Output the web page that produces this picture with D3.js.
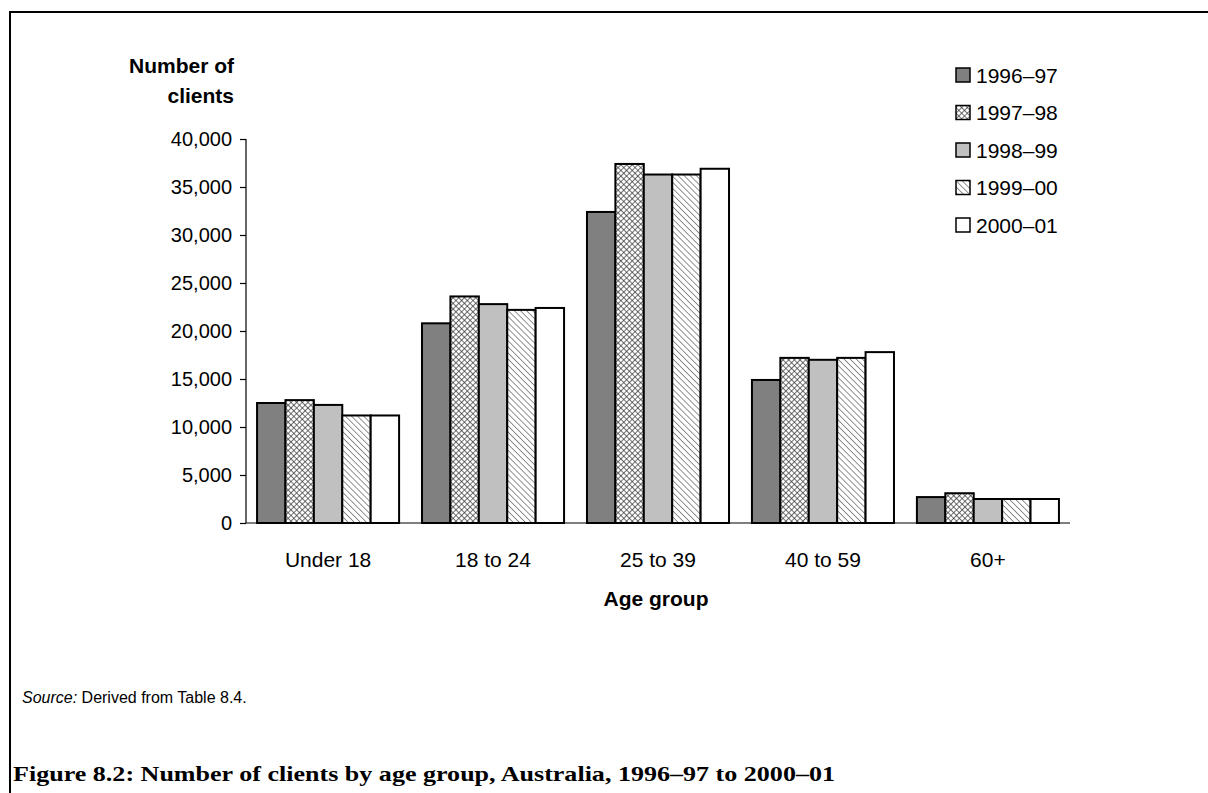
<!DOCTYPE html>
<html>
<head>
<meta charset="utf-8">
<script src="https://cdn.jsdelivr.net/npm/d3@7"></script>
<style>
  html, body { margin: 0; padding: 0; background: #fff; }
  svg { display: block; }
  svg text { fill: #000; }
</style>
</head>
<body>
<svg id="chart" width="1208" height="793"></svg>
<script>
// ---- Data ----
const categories = ["Under 18", "18 to 24", "25 to 39", "40 to 59", "60+"];
const seriesNames = ["1996–97", "1997–98", "1998–99", "1999–00", "2000–01"];
const v1996_97 = [12500, 20800, 32400, 14900, 2700];
const v1997_98 = [12800, 23600, 37400, 17200, 3100];
const v1998_99 = [12300, 22800, 36300, 17000, 2500];
const v1999_00 = [11200, 22200, 36300, 17200, 2500];
const v2000_01 = [11200, 22400, 36900, 17800, 2500];
const yTicks = [0, 5000, 10000, 15000, 20000, 25000, 30000, 35000, 40000];

const seriesValues = [v1996_97, v1997_98, v1998_99, v1999_00, v2000_01];
const fills = ["#808080", "url(#crosshatch)", "#c0c0c0", "url(#diag)", "#ffffff"];
const SANS = "'Liberation Sans', Arial, sans-serif";

const svg = d3.select("#chart").style("font-family", SANS);

// ---- Patterns ----
const defs = svg.append("defs");
const ch = defs.append("pattern").attr("id", "crosshatch")
  .attr("patternUnits", "userSpaceOnUse").attr("width", 4).attr("height", 4)
  .attr("patternTransform", "rotate(45)");
ch.append("rect").attr("width", 4).attr("height", 4).attr("fill", "#fff");
ch.append("line").attr("x1", 0).attr("y1", 0).attr("x2", 0).attr("y2", 4)
  .attr("stroke", "#333").attr("stroke-width", 1.4);
ch.append("line").attr("x1", 0).attr("y1", 0).attr("x2", 4).attr("y2", 0)
  .attr("stroke", "#333").attr("stroke-width", 1.4);

const dg = defs.append("pattern").attr("id", "diag")
  .attr("patternUnits", "userSpaceOnUse").attr("width", 4.3).attr("height", 4.3)
  .attr("patternTransform", "rotate(-45)");
dg.append("rect").attr("width", 4.3).attr("height", 4.3).attr("fill", "#fff");
dg.append("line").attr("x1", 0).attr("y1", 0).attr("x2", 0).attr("y2", 4.3)
  .attr("stroke", "#777").attr("stroke-width", 1.6);

// ---- Frame ----
svg.append("path").attr("d", "M10,793 V12 H1208")
  .attr("fill", "none").attr("stroke", "#000").attr("stroke-width", 2);

// ---- Scales ----
const x0 = d3.scaleBand().domain(categories).range([246, 1070])
  .paddingInner(0.139).paddingOuter(0.067);
const x1 = d3.scaleBand().domain(seriesNames).range([0, x0.bandwidth()]);
const y = d3.scaleLinear().domain([0, 40000]).range([523, 139]);

// ---- Bars ----
const groups = svg.append("g").selectAll("g").data(categories).join("g")
  .attr("transform", d => `translate(${x0(d)},0)`);
groups.selectAll("rect")
  .data((c, ci) => seriesNames.map((s, si) => ({ s, si, v: seriesValues[si][ci] })))
  .join("rect")
  .attr("x", d => x1(d.s))
  .attr("y", d => y(d.v))
  .attr("width", x1.bandwidth())
  .attr("height", d => y(0) - y(d.v))
  .attr("fill", d => fills[d.si])
  .attr("stroke", "#000")
  .attr("stroke-width", 2);

// ---- Y axis ----
const yAxis = svg.append("g").attr("transform", "translate(246,0)")
  .call(d3.axisLeft(y).tickValues(yTicks).tickSize(6).tickPadding(8)
    .tickFormat(d3.format(",")));
yAxis.attr("font-family", null).attr("font-size", null);
yAxis.select(".domain").attr("d", `M0,${y(40000)}V${y(0)}`).attr("stroke", "#000").attr("stroke-width", 1.2);
yAxis.selectAll(".tick line").attr("stroke", "#000").attr("stroke-width", 1.2);
yAxis.selectAll(".tick text").style("font-size", "20px").style("font-family", SANS).attr("fill", "#000");

// ---- X axis ----
const xAxis = svg.append("g").attr("transform", "translate(0,523)")
  .call(d3.axisBottom(x0).tickSize(0).tickPadding(0));
xAxis.attr("font-family", null).attr("font-size", null);
xAxis.select(".domain").attr("d", "M246,0H1070").attr("stroke", "#000").attr("stroke-width", 1.2);
xAxis.selectAll(".tick text").style("font-size", "21px").style("font-family", SANS)
  .attr("dy", 0).attr("y", 44).attr("fill", "#000");

// ---- Axis titles ----
svg.append("text").attr("x", 234).attr("y", 73).attr("text-anchor", "end")
  .style("font-size", "21px").style("font-weight", "bold").text("Number of");
svg.append("text").attr("x", 234).attr("y", 103).attr("text-anchor", "end")
  .style("font-size", "21px").style("font-weight", "bold").text("clients");
svg.append("text").attr("x", 656).attr("y", 606).attr("text-anchor", "middle")
  .style("font-size", "21px").style("font-weight", "bold").text("Age group");

// ---- Legend ----
const legendY = d3.scalePoint().domain(seriesNames).range([75, 225]);
const lg = svg.append("g").selectAll("g").data(seriesNames).join("g")
  .attr("transform", d => `translate(956,${legendY(d)})`);
lg.append("rect").attr("x", 0).attr("y", -7).attr("width", 14).attr("height", 14)
  .attr("fill", (d, i) => fills[i]).attr("stroke", "#000").attr("stroke-width", 1.5);
lg.append("text").attr("x", 20).attr("y", 0).attr("dy", "0.36em")
  .style("font-size", "21px").text(d => d);

// ---- Source & caption ----
const src = svg.append("text").attr("x", 22).attr("y", 703).style("font-size", "16px");
src.append("tspan").style("font-style", "italic").text("Source:");
src.append("tspan").text(" Derived from Table 8.4.");

svg.append("text").attr("x", 13).attr("y", 781)
  .style("font-family", "'Liberation Serif', 'Times New Roman', serif")
  .style("font-weight", "bold")
  .style("font-size", "21px")
  .attr("textLength", 822).attr("lengthAdjust", "spacingAndGlyphs")
  .text("Figure 8.2: Number of clients by age group, Australia, 1996–97 to 2000–01");
</script>
</body>
</html>
